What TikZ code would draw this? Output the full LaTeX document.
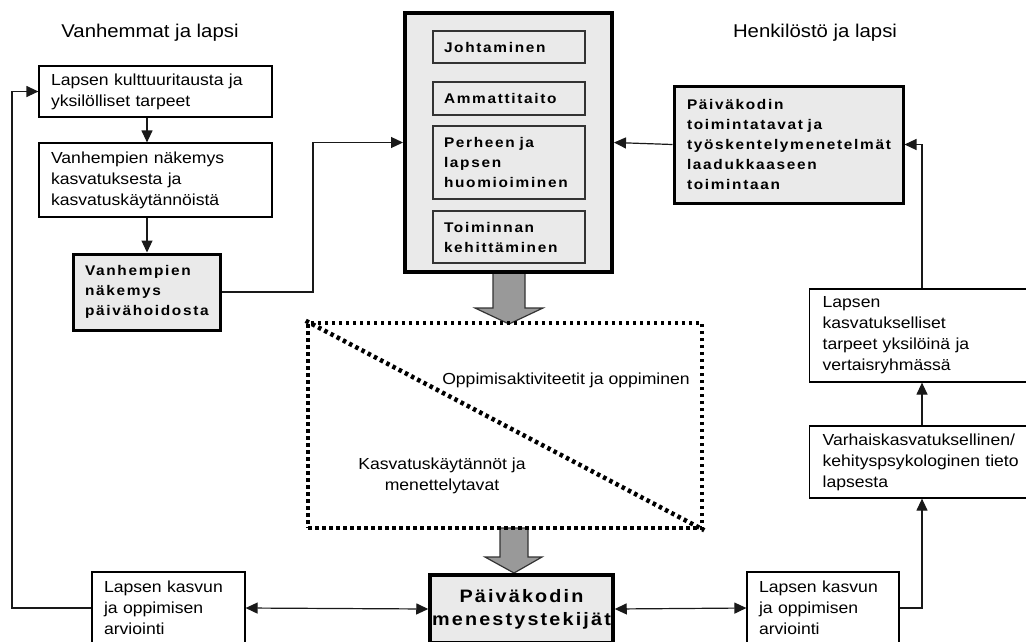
\documentclass[tikz,border=0pt]{standalone}
\usepackage{fontspec}
\setmainfont{Liberation Sans}[FakeStretch=1.1]
\newfontfamily\bfam{Liberation Sans}[FakeStretch=1.1,LetterSpace=12]
\usetikzlibrary{arrows.meta,calc}
\definecolor{boxgray}{HTML}{EAEAEA}
\definecolor{arrgray}{HTML}{999999}
\hyphenpenalty=10000
\exhyphenpenalty=10000
\begin{document}
\begin{tikzpicture}[x=1pt,y=-1pt,
  every node/.style={inner sep=0pt},
  title/.style={font=\fontsize{18.5}{22}\selectfont},
  plain/.style={font=\fontsize{16}{21}\selectfont},
  box/.style={draw=black, line width=1.2pt, inner xsep=12pt, align=left, font=\fontsize{16}{21}\selectfont},
  boldbox/.style={draw=black, fill=boxgray, line width=3pt, inner xsep=13pt, align=left, font=\bfam\bfseries\fontsize{14}{20}\selectfont},
  innerbox/.style={draw=black!80, line width=1.3pt, inner xsep=11pt, align=left, minimum width=152pt, text width=130pt, font=\bfam\bfseries\fontsize{14}{20}\selectfont},
  dotbox/.style={draw=black, line width=4.5pt, dash pattern=on 3.5pt off 3.5pt},
  arr/.style={-{Triangle[length=12pt,width=11pt]}, line width=1.2pt, draw=black!90},
  arrtwo/.style={{Triangle[length=12pt,width=11pt]}-{Triangle[length=12pt,width=11pt]}, line width=1.2pt, draw=black!90},
  bigarrow/.style={fill=arrgray, draw=black!80, line width=1.2pt}
]
\useasboundingbox (0,0) rectangle (1026,641);
\clip (0,0) rectangle (1026,641);

% big gray arrows
\draw[bigarrow] (493,272) -- (493,308) -- (475,308) -- (509,324) -- (543,308) -- (525,308) -- (525,272) -- cycle;
\draw[bigarrow] (500,528) -- (500,557) -- (485,557) -- (514,573) -- (542,557) -- (528,557) -- (528,528) -- cycle;

% titles
\node[title] (t1) at (150,33) {Vanhemmat ja lapsi};
\node[title] (t2) at (815,33) {Henkilöstö ja lapsi};

% left column
\node[box, minimum width=233pt, minimum height=51pt, text width=209pt] (b1) at (155.5,91.5)
  {Lapsen kulttuuritausta ja\\yksilölliset tarpeet};
\node[box, minimum width=233pt, minimum height=74pt, text width=209pt] (b2) at (155.5,180)
  {Vanhempien näkemys\\kasvatuksesta ja\\kasvatuskäytännöistä};
\node[boldbox, minimum width=147pt, minimum height=76pt, text width=123pt, inner xsep=12pt] (b3) at (146.5,292)
  {Vanhempien\\näkemys\\päivähoidosta};

% central big box
\node[draw=black, fill=boxgray, line width=4pt, minimum width=207pt, minimum height=259pt] (big) at (508.5,142.5) {};
\node[innerbox, minimum height=32pt] (j1) at (509,47) {Johtaminen};
\node[innerbox, minimum height=33pt] (j2) at (509,98.5) {Ammattitaito};
\node[innerbox, minimum height=73pt] (j3) at (509,162.5) {Perheen ja\\lapsen\\huomioiminen};
\node[innerbox, minimum height=52pt] (j4) at (509,237) {Toiminnan\\kehittäminen};

% right column
\node[boldbox, minimum width=229pt, minimum height=117pt, text width=203pt] (rb) at (788.5,144.5)
  {Päiväkodin\\toimintatavat ja\\työskentelymenetelmät\\laadukkaaseen\\toimintaan};
\node[box, anchor=west, minimum height=93pt, text width=210pt, inner xsep=13pt] (r1) at (809,335.5)
  {Lapsen\\kasvatukselliset\\tarpeet yksilöinä ja\\vertaisryhmässä};
\node[box, anchor=west, minimum height=72pt, text width=210pt, inner xsep=13pt] (r2) at (809,462)
  {Varhaiskasvatuksellinen/\\kehityspsykologinen tieto\\lapsesta};

% dotted box
\node[dotbox, minimum width=394pt, minimum height=205pt] (db) at (505,425.5) {};
\draw[dotbox] (db.north west) -- (db.south east);
\node[plain] (o1) at (566,380) {Oppimisaktiviteetit ja oppiminen};
\node[plain, align=center] (o2) at (442,476) {Kasvatuskäytännöt ja\\menettelytavat};

% bottom row
\node[box, minimum width=153pt, minimum height=72pt, text width=129pt] (bl) at (168.5,608)
  {Lapsen kasvun\\ja oppimisen\\arviointi};
\node[draw=black, fill=boxgray, line width=3.5pt, minimum width=183pt, minimum height=68pt, align=center,
  font=\bfam\bfseries\fontsize{18}{23}\selectfont] (bc) at (521.5,609)
  {Päiväkodin\\menestystekijät};
\node[box, minimum width=152pt, minimum height=72pt, text width=128pt] (br) at (823,608)
  {Lapsen kasvun\\ja oppimisen\\arviointi};

% helper coordinates
\coordinate (cx) at (147,0);
\coordinate (k1) at (313,0);
\coordinate (k2) at (922,0);
\coordinate (k3) at (12,0);

% connectors
\draw[arr] (b1.south -| cx) -- (b2.north -| cx);
\draw[arr] (b2.south -| cx) -- (b3.north -| cx);
\draw[arr] (b3.east) -- (b3.east -| k1) -- (big.west -| k1) -- (big.west);
\draw[arr] (rb.west) -- (big.east);
\draw[arr] (r1.north -| k2) |- (rb.east);
\draw[arr] (r2.north -| k2) -- (r1.south -| k2);
\draw[arr] (br.east) -| (r2.south -| k2);
\draw[arr] (bl.west) -| (k3 |- b1.west) -- (b1.west);
\draw[arrtwo] (bl.east) -- (bc.west);
\draw[arrtwo] (bc.east) -- (br.west);
\end{tikzpicture}
\end{document}
